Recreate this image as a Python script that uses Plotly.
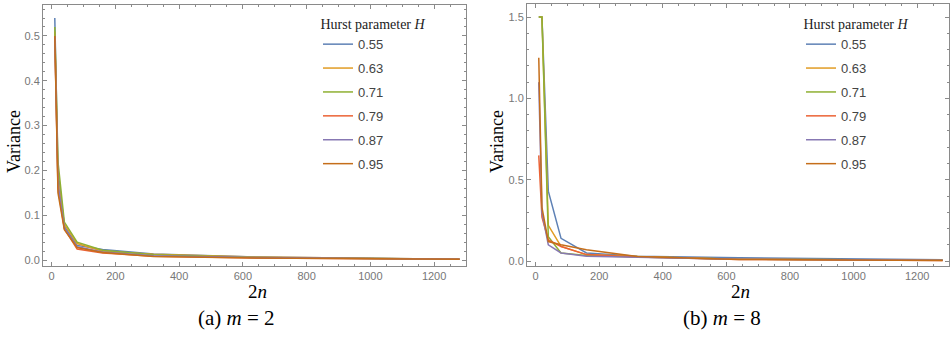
import plotly.graph_objects as go

# ---------------- data ----------------
two_n = [10, 20, 40, 80, 160, 320, 640, 1280]
hurst_labels = ["0.55", "0.63", "0.71", "0.79", "0.87", "0.95"]
colors = ["#5E81B5", "#E19C24", "#8FB032", "#EB6235", "#8778B3", "#C56E1A"]

# (a) m = 2
var_m2_055 = [0.54, 0.20, 0.075, 0.033, 0.024, 0.014, 0.007, 0.002]
var_m2_063 = [0.51, 0.18, 0.080, 0.037, 0.020, 0.013, 0.007, 0.002]
var_m2_071 = [0.52, 0.22, 0.085, 0.040, 0.022, 0.012, 0.006, 0.002]
var_m2_079 = [0.50, 0.16, 0.070, 0.025, 0.016, 0.009, 0.005, 0.002]
var_m2_087 = [0.50, 0.17, 0.072, 0.030, 0.018, 0.010, 0.006, 0.002]
var_m2_095 = [0.50, 0.15, 0.068, 0.028, 0.017, 0.008, 0.005, 0.002]

# (b) m = 8  (values above 1.5 are clipped in the original plot)
var_m8_055 = [1.50, 1.50, 0.43, 0.14, 0.050, 0.030, 0.020, 0.008]
var_m8_063 = [1.50, 1.50, 0.22, 0.090, 0.040, 0.028, 0.012, 0.005]
var_m8_071 = [1.50, 1.50, 0.15, 0.050, 0.035, 0.025, 0.012, 0.005]
var_m8_079 = [0.65, 0.27, 0.13, 0.090, 0.040, 0.025, 0.010, 0.004]
var_m8_087 = [1.10, 0.30, 0.10, 0.050, 0.030, 0.025, 0.012, 0.005]
var_m8_095 = [1.25, 0.33, 0.12, 0.100, 0.070, 0.028, 0.010, 0.004]

series_m2 = [var_m2_055, var_m2_063, var_m2_071, var_m2_079, var_m2_087, var_m2_095]
series_m8 = [var_m8_055, var_m8_063, var_m8_071, var_m8_079, var_m8_087, var_m8_095]

x_ticks = [0, 200, 400, 600, 800, 1000, 1200]
y_ticks_m2 = [0.0, 0.1, 0.2, 0.3, 0.4, 0.5]
y_ticks_m8 = [0.0, 0.5, 1.0, 1.5]

W, H = 950, 338
SERIF = "Liberation Serif"
SANS = "Liberation Sans"

fig = go.Figure()

for i, (lab, col) in enumerate(zip(hurst_labels, colors)):
    fig.add_trace(go.Scatter(
        x=two_n, y=series_m2[i], mode="lines", name=lab,
        line=dict(color=col, width=1.5), legend="legend", legendgroup="a" + lab,
        xaxis="x", yaxis="y"))
for i, (lab, col) in enumerate(zip(hurst_labels, colors)):
    fig.add_trace(go.Scatter(
        x=two_n, y=series_m8[i], mode="lines", name=lab,
        line=dict(color=col, width=1.5), legend="legend2", legendgroup="b" + lab,
        xaxis="x2", yaxis="y2"))

def px_x(p):
    return p / W

def px_y(p):
    return 1 - p / H

frame = "#8a8a8a"
tickfont = dict(family=SANS, size=11, color="#777777")

common_x = dict(
    range=[-27, 1300], tickvals=x_ticks, ticks="inside", ticklen=4, tickcolor=frame,
    showline=True, linecolor=frame, linewidth=1, mirror="ticks", showgrid=False,
    zeroline=False, tickfont=tickfont,
    minor=dict(dtick=50, ticks="inside", ticklen=2, tickcolor=frame, showgrid=False),
)

legend_common = dict(
    xanchor="left", yanchor="top",
    bgcolor="rgba(255,255,255,0)", borderwidth=0,
    font=dict(family=SANS, size=13, color="#444444"),
    title=dict(text="Hurst parameter <i>H</i>", side="top center",
               font=dict(family=SERIF, size=14, color="#222222")),
    traceorder="grouped", tracegroupgap=4, itemwidth=30,
)

fig.update_layout(
    width=W, height=H,
    margin=dict(l=0, r=0, t=0, b=0),
    paper_bgcolor="white", plot_bgcolor="white",
    showlegend=True,
    xaxis=dict(domain=[px_x(43), px_x(466)], anchor="y", **common_x),
    yaxis=dict(domain=[px_y(266), px_y(5)], anchor="x",
               range=[-0.013, 0.569], tickvals=y_ticks_m2, tickformat=".1f",
               ticks="inside", ticklen=4, tickcolor=frame,
               showline=True, linecolor=frame, linewidth=1, mirror="ticks",
               showgrid=False, zeroline=False, tickfont=tickfont,
               minor=dict(dtick=0.02, ticks="inside", ticklen=2, tickcolor=frame, showgrid=False)),
    xaxis2=dict(domain=[px_x(527), px_x(949)], anchor="y2", **common_x),
    yaxis2=dict(domain=[px_y(266), px_y(4)], anchor="x2",
                range=[-0.03, 1.58], tickvals=y_ticks_m8, tickformat=".1f",
                ticks="inside", ticklen=4, tickcolor=frame,
                showline=True, linecolor=frame, linewidth=1, mirror="ticks",
                showgrid=False, zeroline=False, tickfont=tickfont,
                minor=dict(dtick=0.1, ticks="inside", ticklen=2, tickcolor=frame, showgrid=False)),
    legend=dict(x=px_x(318), y=px_y(11), **legend_common),
    legend2=dict(x=px_x(801), y=px_y(11), **legend_common),
)

annotations = [
    dict(text="Variance", x=px_x(14), y=px_y(142), textangle=-90, size=18),
    dict(text="Variance", x=px_x(497), y=px_y(142), textangle=-90, size=18),
    dict(text="2<i>n</i>", x=px_x(257), y=px_y(291), size=19),
    dict(text="2<i>n</i>", x=px_x(740), y=px_y(291), size=19),
    dict(text="(a) <i>m</i> = 2", x=px_x(236), y=px_y(318), size=21),
    dict(text="(b) <i>m</i> = 8", x=px_x(722), y=px_y(318), size=21),
]
for a in annotations:
    size = a.pop("size")
    fig.add_annotation(xref="paper", yref="paper", showarrow=False,
                       xanchor="center", yanchor="middle",
                       font=dict(family=SERIF, size=size, color="black"), **a)

fig.write_html("out.html",
               config={"displayModeBar": False},
               post_script="document.body.style.margin='0';document.body.style.overflow='hidden';")
